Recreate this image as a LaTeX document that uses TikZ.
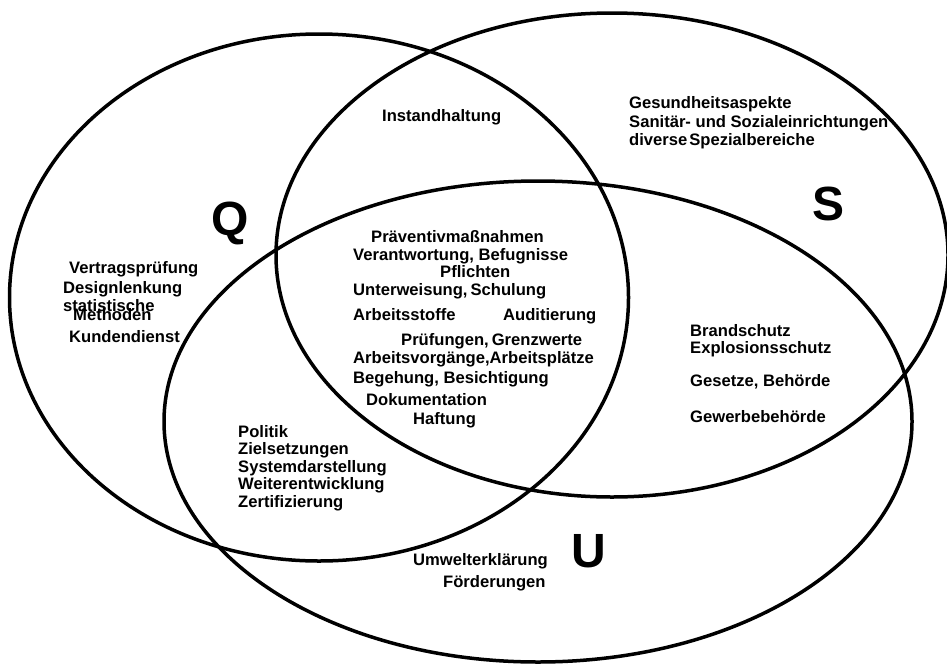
\documentclass[tikz,border=0pt]{standalone}
\usepackage{fontspec}
\setmainfont{Liberation Sans}
\begin{document}
\begin{tikzpicture}[x=1pt,y=-1pt,
  ring/.style={draw=black,line width=3.5pt},
  lbl/.style={anchor=base west,inner sep=0pt,font=\bfseries\fontsize{16.6}{18}\selectfont},
  big/.style={anchor=base west,inner sep=0pt,font=\bfseries\fontsize{48}{50}\selectfont}]
\useasboundingbox (0,0) rectangle (947,664);

% the three sets
\draw[ring] (319,297.5) ellipse [x radius=309.5, y radius=263.5];
\draw[ring] (612,255) ellipse [x radius=336, y radius=242];
\draw[ring] (538,421.5) ellipse [x radius=374, y radius=240.5];

% set letters
\node[big] (lq) at (211,235) {Q};
\node[big] (ls) at (812,220) {S};
\node[big] (lu) at (571,567) {U};

% Q only
\node[lbl] (q1) at (69,273) {Vertragsprüfung};
\node[lbl] (q2) at (63,293) {Designlenkung};
\node[lbl] (q3) at (63,311) {statistische};
\node[lbl] (q4) at (73,320) {Methoden};
\node[lbl] (q5) at (69,342) {Kundendienst};

% Q and S
\node[lbl] (qs1) at (382,121) {Instandhaltung};

% S only
\node[lbl] (s1) at (629,108) {Gesundheitsaspekte};
\node[lbl] (s2) at (629,127) {Sanitär- und Sozialeinrichtungen};
\node[lbl] (s3) at (629,145) {diverse\hspace{2pt}Spezialbereiche};

% Q, S and U
\node[lbl] (c1)  at (371,242) {Präventivmaßnahmen};
\node[lbl] (c2)  at (353,260) {Verantwortung, Befugnisse};
\node[lbl] (c3)  at (440,277) {Pflichten};
\node[lbl] (c4)  at (353,295) {Unterweisung,\hspace{3pt}Schulung};
\node[lbl] (c5)  at (353,320) {Arbeitsstoffe};
\node[lbl] (c6)  at (503,320) {Auditierung};
\node[lbl] (c7)  at (401,345) {Prüfungen,\hspace{3pt}Grenzwerte};
\node[lbl] (c8)  at (353,363) {Arbeitsvorgänge,Arbeitsplätze};
\node[lbl] (c9)  at (353,383) {Begehung, Besichtigung};
\node[lbl] (c10) at (366,405) {Dokumentation};
\node[lbl] (c11) at (413,424) {Haftung};

% S and U
\node[lbl] (su1) at (690,336) {Brandschutz};
\node[lbl] (su2) at (690,353) {Explosionsschutz};
\node[lbl] (su3) at (690,386) {Gesetze, Behörde};
\node[lbl] (su4) at (690,422) {Gewerbebehörde};

% Q and U
\node[lbl] (qu1) at (238,437) {Politik};
\node[lbl] (qu2) at (238,454.5) {Zielsetzungen};
\node[lbl] (qu3) at (238,472) {Systemdarstellung};
\node[lbl] (qu4) at (238,489.5) {Weiterentwicklung};
\node[lbl] (qu5) at (238,507) {Zertifizierung};

% U only
\node[lbl] (u1) at (413,565) {Umwelterklärung};
\node[lbl] (u2) at (443,587) {Förderungen};
\end{tikzpicture}
\end{document}
